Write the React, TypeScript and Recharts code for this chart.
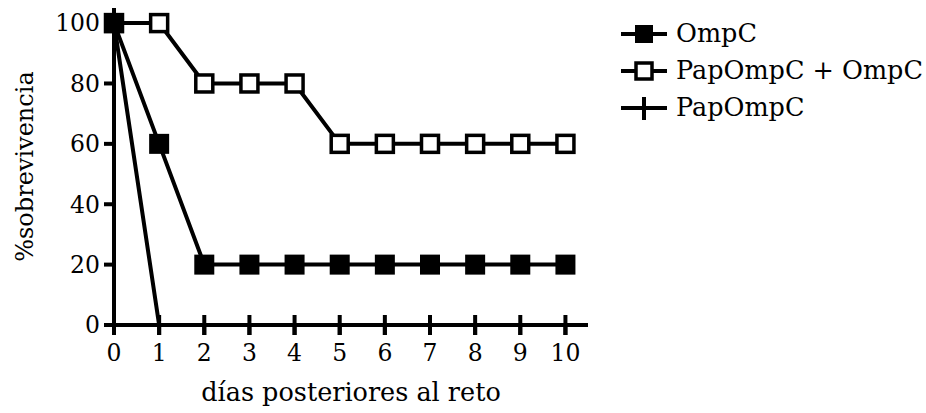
import { LineChart, Line, XAxis, YAxis, Legend } from 'recharts'

const days = [0, 1, 2, 3, 4, 5, 6, 7, 8, 9, 10]
const ompC = [100, 60, 20, 20, 20, 20, 20, 20, 20, 20, 20]
const papOmpCPlusOmpC = [100, 100, 80, 80, 80, 60, 60, 60, 60, 60, 60]
const papOmpC = [100, 0, 0, 0, 0, 0, 0, 0, 0, 0, 0]
const xTicks = [0, 1, 2, 3, 4, 5, 6, 7, 8, 9, 10]
const yTicks = [0, 20, 40, 60, 80, 100]

const data = days.map((d, i) => ({
  day: d,
  ompC: ompC[i],
  papOmpCPlusOmpC: papOmpCPlusOmpC[i],
  papOmpC: papOmpC[i],
}))

const FONT = '"DejaVu Serif", serif'
const SW = 4

function FilledSquare(props: any) {
  const { cx, cy, index } = props
  if (cx == null || cy == null) return <g key={`f-${index}`} />
  return <rect key={`f-${index}`} x={cx - 10} y={cy - 10} width={20} height={20} fill="#000" />
}

function OpenSquare(props: any) {
  const { cx, cy, index } = props
  if (cx == null || cy == null) return <g key={`o-${index}`} />
  return (
    <rect
      key={`o-${index}`}
      x={cx - 8.5}
      y={cy - 8.5}
      width={17}
      height={17}
      fill="#fff"
      stroke="#000"
      strokeWidth={3.5}
    />
  )
}

function PlusMark(props: any) {
  const { cx, cy, index } = props
  if (cx == null || cy == null) return <g key={`p-${index}`} />
  return <line key={`p-${index}`} x1={cx} x2={cx} y1={cy - 10} y2={cy + 10} stroke="#000" strokeWidth={SW} />
}

const legendItems = [
  { name: 'OmpC', kind: 'filled' },
  { name: 'PapOmpC + OmpC', kind: 'open' },
  { name: 'PapOmpC', kind: 'plus' },
]

function LegendIcon({ kind }: { kind: string }) {
  return (
    <svg width={48} height={26} style={{ display: 'block' }}>
      <line x1={1} x2={47} y1={13} y2={13} stroke="#000" strokeWidth={SW} />
      {kind === 'filled' && <rect x={15} y={4} width={18} height={18} fill="#000" />}
      {kind === 'open' && (
        <rect x={16} y={5} width={16} height={16} fill="#fff" stroke="#000" strokeWidth={3.5} />
      )}
      {kind === 'plus' && <line x1={24} x2={24} y1={2} y2={25} stroke="#000" strokeWidth={SW} />}
    </svg>
  )
}

function renderLegend() {
  return (
    <div style={{ fontFamily: FONT, fontSize: 25.5, color: '#000' }}>
      {legendItems.map((it) => (
        <div key={it.name} style={{ display: 'flex', alignItems: 'center', height: 37 }}>
          <LegendIcon kind={it.kind} />
          <span style={{ marginLeft: 8, whiteSpace: 'nowrap', lineHeight: '37px' }}>{it.name}</span>
        </div>
      ))}
    </div>
  )
}

export default function App() {
  const tick = { fill: '#000', fontSize: 23.5, fontFamily: FONT }
  const axisStroke = { stroke: '#000', strokeWidth: SW }
  return (
    <div style={{ position: 'absolute', left: 0, top: 0, background: '#fff' }}>
      <LineChart
        width={926}
        height={413}
        data={data}
        margin={{ top: 8, right: 338, bottom: 0, left: 0 }}
        style={{ fontFamily: FONT }}
      >
        <XAxis
          dataKey="day"
          type="number"
          domain={[0, 10.5]}
          ticks={xTicks}
          height={88}
          tickSize={10}
          tickMargin={9}
          tick={tick}
          axisLine={axisStroke}
          tickLine={axisStroke}
          label={{
            value: 'días posteriores al reto',
            position: 'insideBottom',
            offset: 12,
            fill: '#000',
            fontSize: 25.5,
            fontFamily: FONT,
          }}
        />
        <YAxis
          type="number"
          domain={[0, 105]}
          ticks={yTicks}
          width={114}
          tickSize={10}
          tickMargin={4}
          tick={tick}
          axisLine={axisStroke}
          tickLine={axisStroke}
          label={{
            value: '%sobrevivencia',
            angle: -90,
            position: 'insideLeft',
            offset: 24,
            fill: '#000',
            fontSize: 24,
            fontFamily: FONT,
            style: { textAnchor: 'middle' },
          }}
        />
        <Legend
          layout="vertical"
          align="center"
          verticalAlign="middle"
          wrapperStyle={{ left: 620, top: 15, width: 306 }}
          content={renderLegend}
        />
        <Line
          dataKey="papOmpCPlusOmpC"
          stroke="#000"
          strokeWidth={SW}
          dot={OpenSquare}
          activeDot={false}
          isAnimationActive={false}
        />
        <Line
          dataKey="papOmpC"
          stroke="#000"
          strokeWidth={SW}
          dot={PlusMark}
          activeDot={false}
          isAnimationActive={false}
        />
        <Line
          dataKey="ompC"
          stroke="#000"
          strokeWidth={SW}
          dot={FilledSquare}
          activeDot={false}
          isAnimationActive={false}
        />
      </LineChart>
    </div>
  )
}
